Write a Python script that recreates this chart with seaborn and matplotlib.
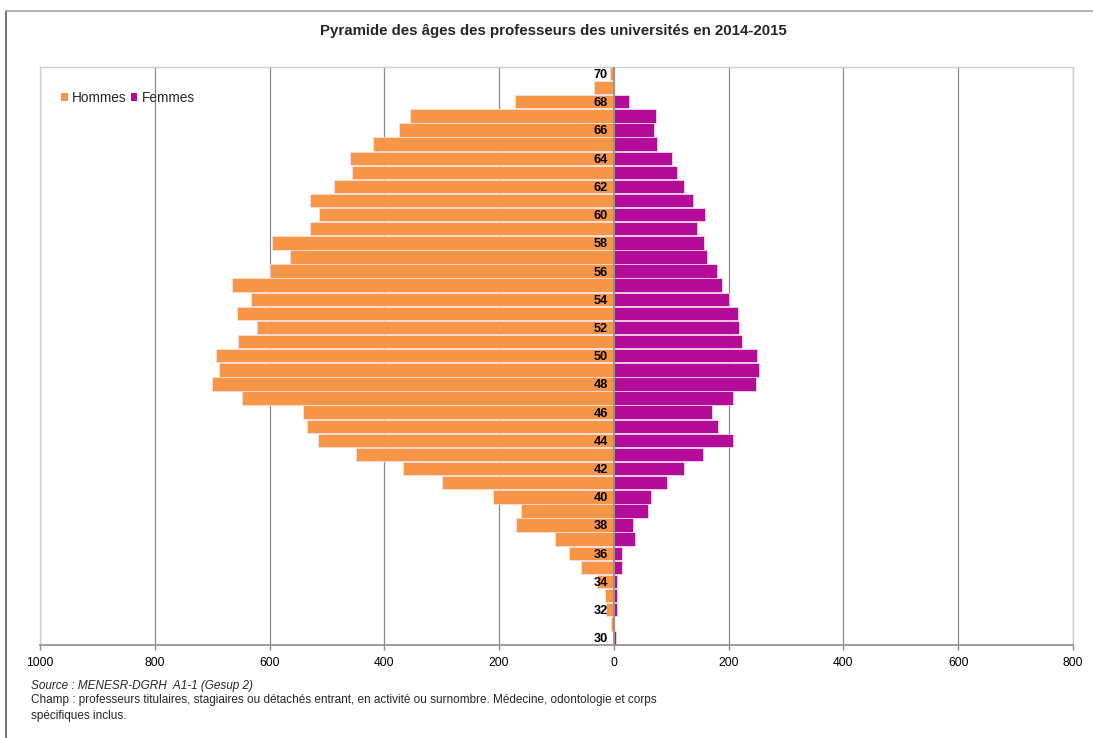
import matplotlib
matplotlib.use("Agg")
import matplotlib.pyplot as plt
import numpy as np
import pandas as pd
import seaborn as sns
from matplotlib.ticker import FuncFormatter
from matplotlib.patches import Patch
from matplotlib.lines import Line2D

# ---------------- data ----------------
ages = list(range(30, 71))
hommes = [0, 5, 14, 15, 30, 57, 79, 103, 171, 161,
          211, 299, 367, 449, 515, 534, 542, 648, 701, 688,
          694, 655, 622, 656, 633, 666, 600, 565, 596, 530,
          513, 530, 487, 457, 459, 420, 375, 355, 172, 34,
          6]
femmes = [4, 0, 6, 6, 6, 15, 14, 37, 33, 59,
          64, 93, 123, 155, 207, 182, 171, 207, 247, 252,
          249, 223, 218, 216, 200, 189, 180, 163, 157, 144,
          159, 137, 123, 110, 101, 75, 70, 73, 26, 0,
          0]
age_labels = list(range(30, 71, 2))
x_ticks = [-1000, -800, -600, -400, -200, 0, 200, 400, 600, 800]
series_names = ["Hommes", "Femmes"]
series_colors = ["#F79646", "#B40C98"]
title = "Pyramide des âges des professeurs des universités en 2014-2015"
source_txt = "Source : MENESR-DGRH  A1-1 (Gesup 2)"
champ_txt = ("Champ : professeurs titulaires, stagiaires ou détachés entrant, en activité ou surnombre. "
             "Médecine, odontologie et corps\nspécifiques inclus.")

df = pd.DataFrame({
    "age": ages + ages,
    "valeur": [-v for v in hommes] + femmes,
    "sexe": [series_names[0]] * len(ages) + [series_names[1]] * len(ages),
})

# ---------------- style ----------------
sns.set_theme(style="white")
plt.rcParams["font.family"] = ["Liberation Sans", "DejaVu Sans"]

W, H = 1093, 738
fig = plt.figure(figsize=(W / 100, H / 100), dpi=100)
ax = fig.add_axes([40 / W, 1 - 645 / H, (1073 - 40) / W, (645 - 66.5) / H])

sns.barplot(data=df, x="valeur", y="age", hue="sexe", orient="h",
            native_scale=True, dodge=False, saturation=1,
            palette=dict(zip(series_names, series_colors)),
            width=0.95, edgecolor="#f7e3ea", linewidth=0.5,
            legend=False, ax=ax, zorder=2)

ax.set_xlim(-1000, 800)
ax.set_ylim(29.5, 70.5)
ax.set_xticks(x_ticks)
ax.xaxis.set_major_formatter(FuncFormatter(lambda v, p: f"{abs(int(round(v)))}"))
ax.set_yticks([])
ax.set_xlabel("")
ax.set_ylabel("")

ax.xaxis.grid(True, color="#8c8c8c", linewidth=0.9)
ax.set_axisbelow(True)
ax.axvline(0, color="#8c8c8c", linewidth=1.2, zorder=3)

for side in ["top", "left", "right"]:
    ax.spines[side].set_color("#d0d0d0")
    ax.spines[side].set_linewidth(1.0)
ax.spines["bottom"].set_color("#8c8c8c")
ax.spines["bottom"].set_linewidth(1.2)
ax.tick_params(axis="x", bottom=True, length=3.5, width=1, color="#8c8c8c",
               labelsize=8.8, labelcolor="black", pad=5.5)

for a in age_labels:
    ax.annotate(str(a), xy=(0, a - 0.1), xytext=(-4.3, 0), textcoords="offset points",
                ha="right", va="center", fontsize=9.2, fontweight="bold",
                color="black", zorder=4)

handles = [Patch(facecolor=c, edgecolor="none") for c in series_colors]
ax.legend(handles, series_names, loc="center left",
          bbox_to_anchor=(61 / W, 1 - 98 / H), bbox_transform=fig.transFigure,
          ncol=2, frameon=False, fontsize=9.8, handlelength=0.5, handleheight=0.5,
          handletextpad=0.3, columnspacing=0.3, borderpad=0, borderaxespad=0)

fig.text(553 / W, 1 - 31 / H, title, ha="center", va="center",
         fontsize=10.8, fontweight="bold")
fig.text(31 / W, 1 - 686.5 / H, source_txt, ha="left", va="center",
         fontsize=8.5, style="italic")
fig.text(31 / W, 1 - 694.5 / H, champ_txt, ha="left", va="top",
         fontsize=8.5, linespacing=1.4)

# outer frame of the chart
fig.add_artist(Line2D([6 / W, 6 / W], [0, 1 - 11 / H], transform=fig.transFigure,
                      color="#5a5a5a", linewidth=1.2))
fig.add_artist(Line2D([6 / W, 1], [1 - 11 / H, 1 - 11 / H], transform=fig.transFigure,
                      color="#a6a6a6", linewidth=1.2))

fig.savefig("out.png", dpi=100)
